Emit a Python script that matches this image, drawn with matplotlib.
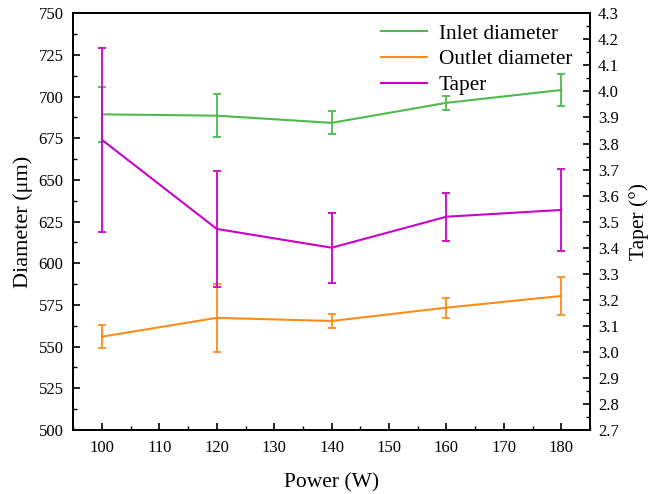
import matplotlib
matplotlib.use("Agg")
import matplotlib.pyplot as plt
from matplotlib.ticker import MultipleLocator, FormatStrFormatter

power = [100, 120, 140, 160, 180]
inlet = [689.4, 688.6, 684.3, 696.3, 704.0]
inlet_err = [16.5, 13.0, 7.0, 4.2, 9.5]
outlet = [556.0, 567.3, 565.4, 573.4, 580.4]
outlet_err = [6.7, 20.3, 4.0, 6.0, 11.2]
taper = [3.814, 3.472, 3.400, 3.519, 3.545]
taper_err = [0.354, 0.223, 0.135, 0.092, 0.159]

c_in = "#4CBB4C"
c_out = "#FF8C1A"
c_tap = "#CC00CC"

plt.rcParams["font.family"] = ["Liberation Serif", "DejaVu Serif"]

fig = plt.figure(figsize=(6.48, 4.94), dpi=100)
ax = fig.add_axes([0.1131, 0.1296, 0.7974, 0.8434])
ax2 = ax.twinx()

ekw = dict(lw=1.5, capsize=3, capthick=1.3, elinewidth=1.3)
ax.errorbar(power, inlet, yerr=inlet_err, color=c_in, **ekw)
ax.errorbar(power, outlet, yerr=outlet_err, color=c_out, **ekw)
ax2.errorbar(power, taper, yerr=taper_err, color=c_tap, **ekw)

ax.set_xlim(95, 185)
ax.set_ylim(500, 750)
ax2.set_ylim(2.7, 4.3)

ax.xaxis.set_major_locator(MultipleLocator(10))
ax.xaxis.set_minor_locator(MultipleLocator(5))
ax.yaxis.set_major_locator(MultipleLocator(25))
ax.yaxis.set_minor_locator(MultipleLocator(12.5))
ax2.yaxis.set_major_locator(MultipleLocator(0.1))
ax2.yaxis.set_minor_locator(MultipleLocator(0.05))
ax2.yaxis.set_major_formatter(FormatStrFormatter("%.1f"))

for a in (ax, ax2):
    a.tick_params(which="major", direction="in", length=5, width=1.2, labelsize=12)
    a.tick_params(which="minor", direction="in", length=3, width=1.0)
    for s in a.spines.values():
        s.set_linewidth(1.3)
ax.tick_params(top=False, right=False, which="both")
ax.tick_params(axis="y", which="major", pad=7)
ax.tick_params(axis="x", which="major", pad=7)
ax2.tick_params(axis="y", which="major", pad=5.7)

ax.set_xlabel("Power (W)", fontsize=15.5, labelpad=12.5)
ax.set_ylabel("Diameter (μm)", fontsize=16)
ax2.set_ylabel("Taper (°)", fontsize=15.5, labelpad=7.5)

handles = [plt.Line2D([], [], color=c, lw=1.5) for c in (c_in, c_out, c_tap)]
ax.legend(handles, ["Inlet diameter", "Outlet diameter", "Taper"], loc="upper right",
          bbox_to_anchor=(0.990, 1.005), frameon=False, fontsize=15.3,
          handlelength=2.15, labelspacing=0.27, borderaxespad=0.2, handletextpad=0.55)

fig.savefig("out.png", dpi=100)
